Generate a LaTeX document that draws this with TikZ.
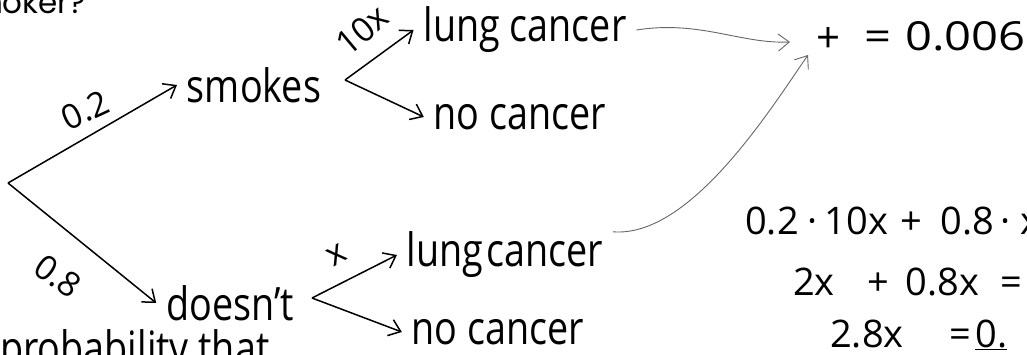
\documentclass[tikz,border=0pt]{standalone}
\usepackage{fontspec}
\setmainfont{Open Sans}
\newfontfamily\printfont{Poppins}
\usetikzlibrary{arrows.meta}

\tikzset{
	hand/.style={font=\fontsize{46}{50}\selectfont, xscale=0.82, inner ysep=0pt, inner xsep=12pt},
	lbl/.style={font=\fontsize{34}{40}\selectfont, inner sep=0pt},
	eqn/.style={font=\fontsize{38}{44}\selectfont, inner sep=0pt, anchor=base west},
	branch/.style={->, line width=1.5pt},
	link/.style={->, line width=0.9pt, color=black!60},
}

\begin{document}
\begin{tikzpicture}[x=1pt, y=-1pt, >={Straight Barb[length=11pt,width=17pt]}]
	\useasboundingbox (0,0) rectangle (1027,355);

	\node[font=\printfont\fontsize{31}{36}\selectfont, anchor=base east, inner sep=0pt] (question) at (86,14) {smoker?};
	\node[hand, anchor=base west, inner sep=0pt] (prob) at (0,364) {probability that};

	\coordinate (root) at (8,183);
	\node[hand] (smokes) at (254,85) {smokes};
	\node[hand] (doesnt) at (230,303) {doesn't};
	\draw[branch] (root) -- (smokes.west);
	\draw[branch] (root) -- (doesnt.west);
	\node[lbl, rotate=25] (psmoke) at (85,110) {0.2};
	\node[lbl, rotate=-35] (pnot) at (58,276) {0.8};

	\coordinate (upfork) at (345,80);
	\node[hand] (lungA) at (525,30) {lung cancer};
	\node[hand] (noneA) at (520,117) {no cancer};
	\draw[branch] (upfork) -- (lungA.west);
	\draw[branch] (upfork) -- (noneA.west);
	\node[lbl, rotate=40] (rateA) at (362,30) {10x};

	\coordinate (lowfork) at (312,298);
	\node[hand] (lungB) at (505,255) {lung\hspace{0.08em}cancer};
	\node[hand] (noneB) at (498,332) {no cancer};
	\draw[branch] (lowfork) -- (lungB.west);
	\draw[branch] (lowfork) -- (noneB.west);
	\node[lbl, rotate=30] (rateB) at (337,255) {x};

	\node[lbl, font=\fontsize{42}{46}\selectfont] (plus) at (828,40) {+};
	\node[lbl, font=\fontsize{40}{44}\selectfont, xscale=1.18, anchor=west] (total) at (864,36) {=\hspace{12pt}0.006};
	\coordinate (tipA) at (790,42);
	\coordinate (tipB) at (808,55);
	\draw[link] (lungA.east) .. controls (700,20) and (740,44) .. (tipA);
	\draw[link] (lungB.10) .. controls (690,238) and (770,110) .. (tipB);

	\node[eqn] (eqA) at (745,235) {0.2\hspace{9pt}·\hspace{7pt}10x\hspace{12pt}+\hspace{19pt}0.8\hspace{6pt}·\hspace{10pt}x};
	\node[eqn] (eqB) at (793,295) {2x\hspace{33pt}+\hspace{16pt}0.8x\hspace{21pt}=};
	\node[eqn] (eqC) at (830,347) {2.8x\hspace{46pt}=\hspace{4pt}\underline{0.}};
\end{tikzpicture}
\end{document}
